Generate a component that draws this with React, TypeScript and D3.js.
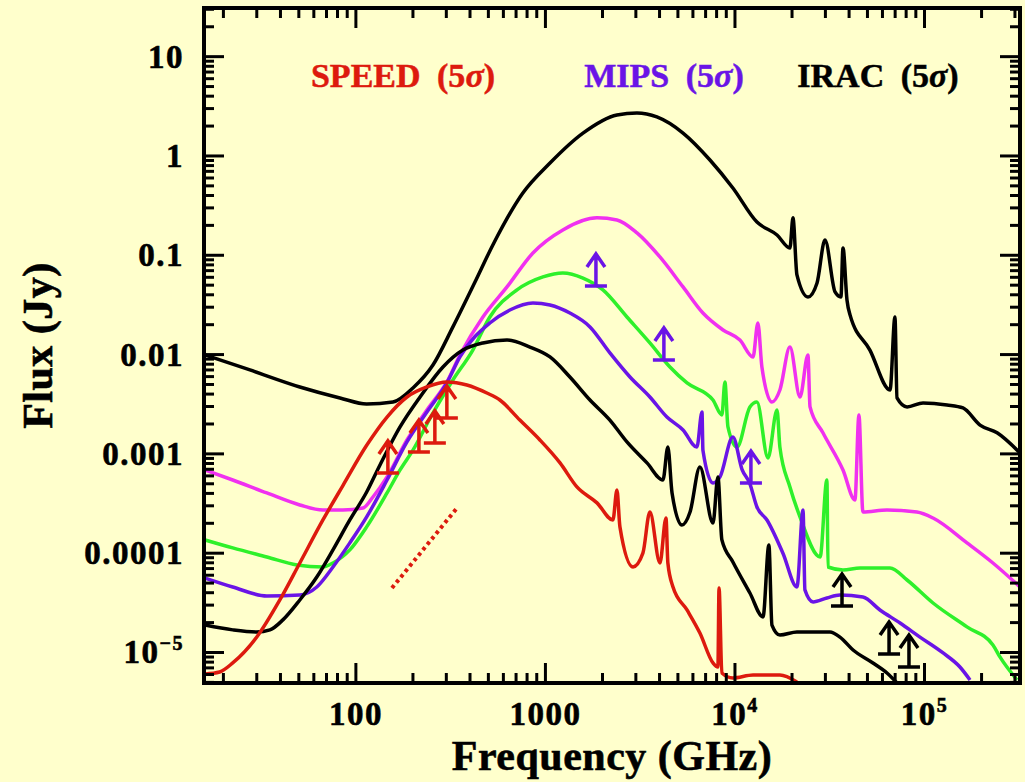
import React, { useEffect, useRef } from 'react';
import * as d3 from 'd3';

// frequency (GHz), flux (Jy)
const xDomain: [number, number] = [15.8, 3.19e5];
const yDomain: [number, number] = [4.93e-6, 30.9];

const xMajorTicks = [100, 1000, 1e4, 1e5];
const xTickLabels = [{ base: '100' }, { base: '1000' }, { base: '10', exp: '4' }, { base: '10', exp: '5' }];
const yMajorTicks = [10, 1, 0.1, 0.01, 0.001, 1e-4, 1e-5];
const yTickLabels = [
  { base: '10' }, { base: '1' }, { base: '0.1' }, { base: '0.01' },
  { base: '0.001' }, { base: '0.0001' }, { base: '10', exp: '−5' },
];

const blackUpper = [
  [16.0, 0.0099], [27.6, 0.007], [50.6, 0.00472], [82.4, 0.00366], [114, 0.00318],
  [157, 0.00333], [200, 0.00461], [255, 0.00785], [325, 0.019], [425, 0.0538],
  [528, 0.127], [760, 0.424], [1057, 0.85], [1578, 1.7], [2384, 2.59], [3041, 2.71],
  [3873, 2.47], [5321, 1.7], [7379, 0.911], [9750, 0.476], [13060, 0.216],
  [16670, 0.16], [19500, 0.1186], [20230, 0.238], [21230, 0.0634], [24270, 0.038],
  [27100, 0.0526], [29850, 0.1426], [33730, 0.0427], [36220, 0.038], [37150, 0.1186],
  [38990, 0.0355], [40460, 0.0251], [51520, 0.0111], [65770, 0.0044], [69820, 0.0239],
  [71610, 0.00366], [80910, 0.00297], [98200, 0.00326], [131500, 0.00311],
  [159600, 0.0029], [196300, 0.00195], [241500, 0.00163], [319200, 0.00102],
];

const magenta = [
  [16.0, 6.89e-4], [22.4, 5.46e-4], [33.9, 4.04e-4], [50.6, 3.06e-4], [67.0, 2.72e-4],
  [85.4, 2.72e-4], [109, 2.85e-4], [123, 3.68e-4], [146, 5.86e-4], [186, 1.38e-3],
  [237, 2.77e-3], [302, 5.3e-3], [354, 0.0099], [468, 0.0239], [627, 0.048],
  [859, 0.1055], [1236, 0.18], [1871, 0.238], [2384, 0.227], [3041, 0.168],
  [4018, 0.0962], [5321, 0.048], [6776, 0.0262], [8650, 0.0177], [10620, 0.014],
  [12450, 0.00946], [13210, 0.0208], [13870, 0.0075], [15670, 0.00333], [17260, 0.0044],
  [19500, 0.0119], [22030, 0.00374], [24270, 0.0099], [24890, 0.00297], [29110, 0.00163],
  [37150, 6.89e-4], [42950, 3.44e-4], [45080, 2.47e-3], [47320, 2.6e-4], [63390, 2.72e-4],
  [91200, 2.6e-4], [110900, 2.26e-4], [167500, 1.27e-4], [229600, 7.97e-5], [319200, 4.57e-5],
];

const green = [
  [16.0, 1.36e-4], [22.4, 1.13e-4], [33.9, 9.16e-5], [48.9, 7.61e-5], [67.0, 7.26e-5],
  [75.7, 7.97e-5], [92.9, 1.08e-4], [114, 1.84e-4], [146, 4.04e-4], [171, 6.89e-4],
  [200, 1.09e-3], [255, 2.58e-3], [325, 5.55e-3], [414, 0.0111], [509, 0.0239],
  [708, 0.0448], [970, 0.0605], [1236, 0.0664], [1578, 0.059], [2011, 0.0448],
  [2692, 0.0239], [3557, 0.0131], [4539, 0.0075], [5585, 0.00518], [7656, 0.00349],
  [8531, 0.00247], [8851, 0.0053], [9183, 0.00187], [10250, 0.00117], [11990, 0.00297],
  [13060, 0.00333], [14930, 9.1e-4], [16670, 2.77e-3], [17260, 1.17e-3], [19500, 4.65e-4],
  [22030, 2.32e-4], [28120, 9.16e-5], [30550, 5.46e-4], [30970, 7.26e-5], [37150, 6.78e-5],
  [45710, 7.1e-5], [65770, 7.1e-5], [80910, 5.37e-5], [110900, 3.15e-5], [167500, 1.81e-5],
  [229600, 1.19e-5], [250000, 9.02e-6], [307600, 5.29e-6],
];

const purple = [
  [16.0, 5.62e-5], [22.4, 4.57e-5], [33.9, 3.71e-5], [50.6, 3.79e-5], [62.2, 4.57e-5],
  [75.7, 7.26e-5], [92.9, 1.27e-4], [114, 2.32e-4], [146, 5.46e-4], [186, 1.32e-3],
  [237, 2.64e-3], [302, 5.18e-3], [354, 9.46e-3], [509, 0.0208], [649, 0.0281],
  [859, 0.0331], [1057, 0.0316], [1346, 0.0262], [1718, 0.019], [2188, 0.0104],
  [2793, 0.00595], [3557, 0.00374], [4375, 2.35e-3], [5321, 1.74e-3], [6295, 1.17e-3],
  [6699, 2.64e-3], [6776, 1.09e-3], [7656, 5.09e-4], [8337, 5.86e-4], [9750, 1.48e-3],
  [10890, 7.0e-4], [11990, 5.0e-4], [13060, 2.92e-4], [14750, 2.16e-4], [17910, 1.0e-4],
  [21230, 4.57e-5], [22860, 2.72e-4], [23390, 4.27e-5], [25820, 3.23e-5], [30550, 3.54e-5],
  [35810, 3.79e-5], [47320, 3.62e-5], [58210, 2.68e-5], [74300, 1.98e-5], [94630, 1.43e-5],
  [125300, 9.89e-6], [153800, 7.14e-6], [173800, 5.29e-6],
];

const blackLower = [
  [16.0, 1.89e-5], [22.4, 1.69e-5], [30.0, 1.61e-5], [35.2, 1.69e-5], [41.2, 2.13e-5],
  [50.6, 3.38e-5], [62.2, 5.75e-5], [75.7, 1.08e-4], [92.9, 2.16e-4], [114, 4.13e-4],
  [134, 7.73e-4], [171, 1.87e-3], [218, 3.74e-3], [288, 7.5e-3], [367, 0.0111],
  [468, 0.0131], [627, 0.014], [828, 0.0119], [1057, 9.46e-3], [1346, 5.95e-3],
  [1718, 3.49e-3], [2188, 2.19e-3], [2692, 1.32e-3], [3434, 8.11e-4], [4169, 5.46e-4],
  [4426, 1.17e-3], [4656, 4.04e-4], [5248, 1.92e-4], [5794, 2.6e-4], [6531, 7.38e-4],
  [7656, 2.01e-4], [8128, 5.86e-4], [8531, 1.36e-4], [9750, 8.16e-5], [11990, 3.97e-5],
  [14060, 2.28e-5], [15100, 1.21e-4], [15670, 1.89e-5], [17260, 1.5e-5], [21230, 1.61e-5],
  [25820, 1.61e-5], [31700, 1.61e-5], [35810, 1.43e-5], [41980, 1.06e-5], [53460, 7.85e-6],
  [63390, 6.22e-6], [71610, 4.93e-6],
];

const red = [
  [16.0, 6.08e-6], [19.1, 6.37e-6], [22.4, 7.85e-6], [30.0, 1.43e-5], [39.7, 3.38e-5],
  [50.6, 7.97e-5], [67.0, 2.16e-4], [85.4, 4.8e-4], [114, 1.22e-3], [146, 2.35e-3],
  [186, 3.74e-3], [237, 4.72e-3], [302, 5.3e-3], [385, 4.94e-3], [491, 4.1e-3],
  [575, 3.49e-3], [733, 2.19e-3], [935, 1.38e-3], [1194, 8.11e-4], [1466, 4.65e-4],
  [1871, 3.21e-4], [2270, 2.16e-4], [2384, 4.34e-4], [2472, 1.84e-4], [2897, 7.26e-5],
  [3267, 1.0e-4], [3557, 2.6e-4], [4018, 7.97e-5], [4325, 2.26e-4], [4426, 7.97e-5],
  [4710, 4.57e-5], [5585, 2.68e-5], [6531, 1.57e-5], [7656, 7.85e-6], [8128, 7.14e-6],
  [8240, 4.47e-5], [8531, 6.22e-6], [9750, 5.54e-6], [12450, 5.94e-6], [17260, 5.94e-6],
  [21230, 5.05e-6],
];

// 5 sigma limits (upward arrows)
const speedLimits = [[147.5, 6.43e-4], [215, 1.045e-3], [261, 1.29e-3], [302, 2.3e-3]];
const mipsLimits = [[1847, 0.0491], [4217, 0.00883], [12140, 5.09e-4]];
const iracLimits = [[36700, 2.94e-5], [65000, 9.66e-6], [82800, 7.14e-6]];

const redDotted = [[155, 4.46e-5], [345, 2.92e-4]];

const BG = '#ffffcc';
const RED = '#dd1a0e';
const MAGENTA = '#f030f0';
const GREEN = '#2ef02a';
const PURPLE = '#6a14e6';
const FONT = '"Liberation Serif", "Times New Roman", serif';

function App() {
  const svgRef = useRef<SVGSVGElement>(null);

  useEffect(() => {
    const svg = d3.select(svgRef.current);
    svg.selectAll('*').remove();

    const left = 204, right = 1020, top = 8, bottom = 683;

    const x = d3.scaleLog().domain(xDomain).range([left, right]);
    const y = d3.scaleLog().domain(yDomain).range([bottom, top]);

    svg.append('defs').append('clipPath').attr('id', 'plotclip')
      .append('rect')
      .attr('x', left).attr('y', top)
      .attr('width', right - left).attr('height', bottom - top);

    const plot = svg.append('g').attr('clip-path', 'url(#plotclip)');

    const line = d3.line<number[]>()
      .x((d) => x(d[0]))
      .y((d) => y(d[1]))
      .curve(d3.curveMonotoneX);

    const series: [number[][], string][] = [
      [blackUpper, '#000'],
      [magenta, MAGENTA],
      [green, GREEN],
      [purple, PURPLE],
      [blackLower, '#000'],
      [red, RED],
    ];
    series.forEach(([data, color]) => {
      plot.append('path')
        .datum(data)
        .attr('fill', 'none')
        .attr('stroke', color)
        .attr('stroke-width', 3.5)
        .attr('stroke-linejoin', 'round')
        .attr('d', line);
    });

    // dotted slope line
    plot.append('path')
      .datum(redDotted)
      .attr('fill', 'none')
      .attr('stroke', RED)
      .attr('stroke-width', 4)
      .attr('stroke-dasharray', '3.5 3.5')
      .attr('d', d3.line<number[]>().x((d) => x(d[0])).y((d) => y(d[1])));

    // upper limit arrows
    const drawArrows = (pts: number[][], color: string) => {
      pts.forEach(([f, v]) => {
        const cx = x(f), cy = y(v);
        plot.append('path')
          .attr('fill', 'none')
          .attr('stroke', color)
          .attr('stroke-width', 3.5)
          .attr('stroke-linejoin', 'miter')
          .attr('d', `M${cx - 11},${cy}H${cx + 11}M${cx},${cy}V${cy - 31}M${cx - 9},${cy - 19}L${cx},${cy - 32}L${cx + 9},${cy - 19}`);
      });
    };
    drawArrows(speedLimits, RED);
    drawArrows(mipsLimits, PURPLE);
    drawArrows(iracLimits, '#000');

    // ticks on all four sides
    const ticks = svg.append('g').attr('stroke', '#000').attr('stroke-width', 3);
    const xt: number[] = [];
    for (let e = 1; e <= 5; e++) for (let k = 1; k <= 9; k++) {
      const v = k * Math.pow(10, e);
      if (v > xDomain[0] && v < xDomain[1]) xt.push(v);
    }
    const yt: number[] = [];
    for (let e = -6; e <= 1; e++) for (let k = 1; k <= 9; k++) {
      const v = k * Math.pow(10, e);
      if (v > yDomain[0] && v < yDomain[1]) yt.push(v);
    }
    const isMajor = (v: number) => Math.abs(Math.log10(v) - Math.round(Math.log10(v))) < 1e-6;
    xt.forEach((v) => {
      const len = isMajor(v) ? 20 : 10;
      ticks.append('line').attr('x1', x(v)).attr('x2', x(v)).attr('y1', bottom).attr('y2', bottom - len);
      ticks.append('line').attr('x1', x(v)).attr('x2', x(v)).attr('y1', top).attr('y2', top + len);
    });
    yt.forEach((v) => {
      const len = isMajor(v) ? 20 : 10;
      ticks.append('line').attr('y1', y(v)).attr('y2', y(v)).attr('x1', left).attr('x2', left + len);
      ticks.append('line').attr('y1', y(v)).attr('y2', y(v)).attr('x1', right).attr('x2', right - len);
    });

    svg.append('rect')
      .attr('x', left).attr('y', top)
      .attr('width', right - left).attr('height', bottom - top)
      .attr('fill', 'none').attr('stroke', '#000').attr('stroke-width', 4);

    // tick labels
    const labels = svg.append('g')
      .attr('font-family', FONT).attr('font-weight', 'bold').attr('font-size', 33)
      .attr('fill', '#000').attr('stroke', '#000').attr('stroke-width', 0.6)
      .attr('letter-spacing', 1.5);

    xMajorTicks.forEach((v, i) => {
      const lab = xTickLabels[i];
      const t = labels.append('text').attr('x', x(v)).attr('y', 725).attr('text-anchor', 'middle');
      t.append('tspan').text(lab.base);
      if (lab.exp) t.append('tspan').attr('font-size', 20).attr('dy', -13).text(lab.exp);
    });
    yMajorTicks.forEach((v, i) => {
      const lab = yTickLabels[i];
      const t = labels.append('text').attr('x', 184).attr('y', y(v) + 11).attr('text-anchor', 'end');
      t.append('tspan').text(lab.base);
      if (lab.exp) t.append('tspan').attr('font-size', 20).attr('dy', -13).text(lab.exp);
    });

    // axis titles
    svg.append('text')
      .attr('x', (left + right) / 2).attr('y', 770)
      .attr('text-anchor', 'middle')
      .attr('font-family', FONT).attr('font-weight', 'bold').attr('font-size', 42)
      .attr('stroke', '#000').attr('stroke-width', 0.6).attr('letter-spacing', 0.5)
      .text('Frequency (GHz)');
    svg.append('text')
      .attr('transform', `translate(52, ${(top + bottom) / 2}) rotate(-90)`)
      .attr('text-anchor', 'middle')
      .attr('font-family', FONT).attr('font-weight', 'bold').attr('font-size', 42)
      .attr('stroke', '#000').attr('stroke-width', 0.6).attr('letter-spacing', 0.5)
      .text('Flux (Jy)');

    // instrument labels
    const inst: [string, string, number][] = [
      ['SPEED', RED, 403],
      ['MIPS', PURPLE, 664],
      ['IRAC', '#000', 878],
    ];
    inst.forEach(([name, color, cx]) => {
      const t = svg.append('text')
        .attr('x', cx).attr('y', 87)
        .attr('text-anchor', 'middle')
        .attr('font-family', FONT).attr('font-weight', 'bold').attr('font-size', 34)
        .attr('fill', color).attr('stroke', color).attr('stroke-width', 0.5)
        .attr('word-spacing', 8);
      t.append('tspan').text(`${name} (5`);
      t.append('tspan').attr('font-style', 'italic').text('σ');
      t.append('tspan').text(')');
    });
  }, []);

  return (
    <div style={{ position: 'fixed', left: 0, top: 0, width: 1025, height: 782, background: BG }}>
      <svg ref={svgRef} width={1025} height={782} style={{ display: 'block' }} />
    </div>
  );
}

export default App;
